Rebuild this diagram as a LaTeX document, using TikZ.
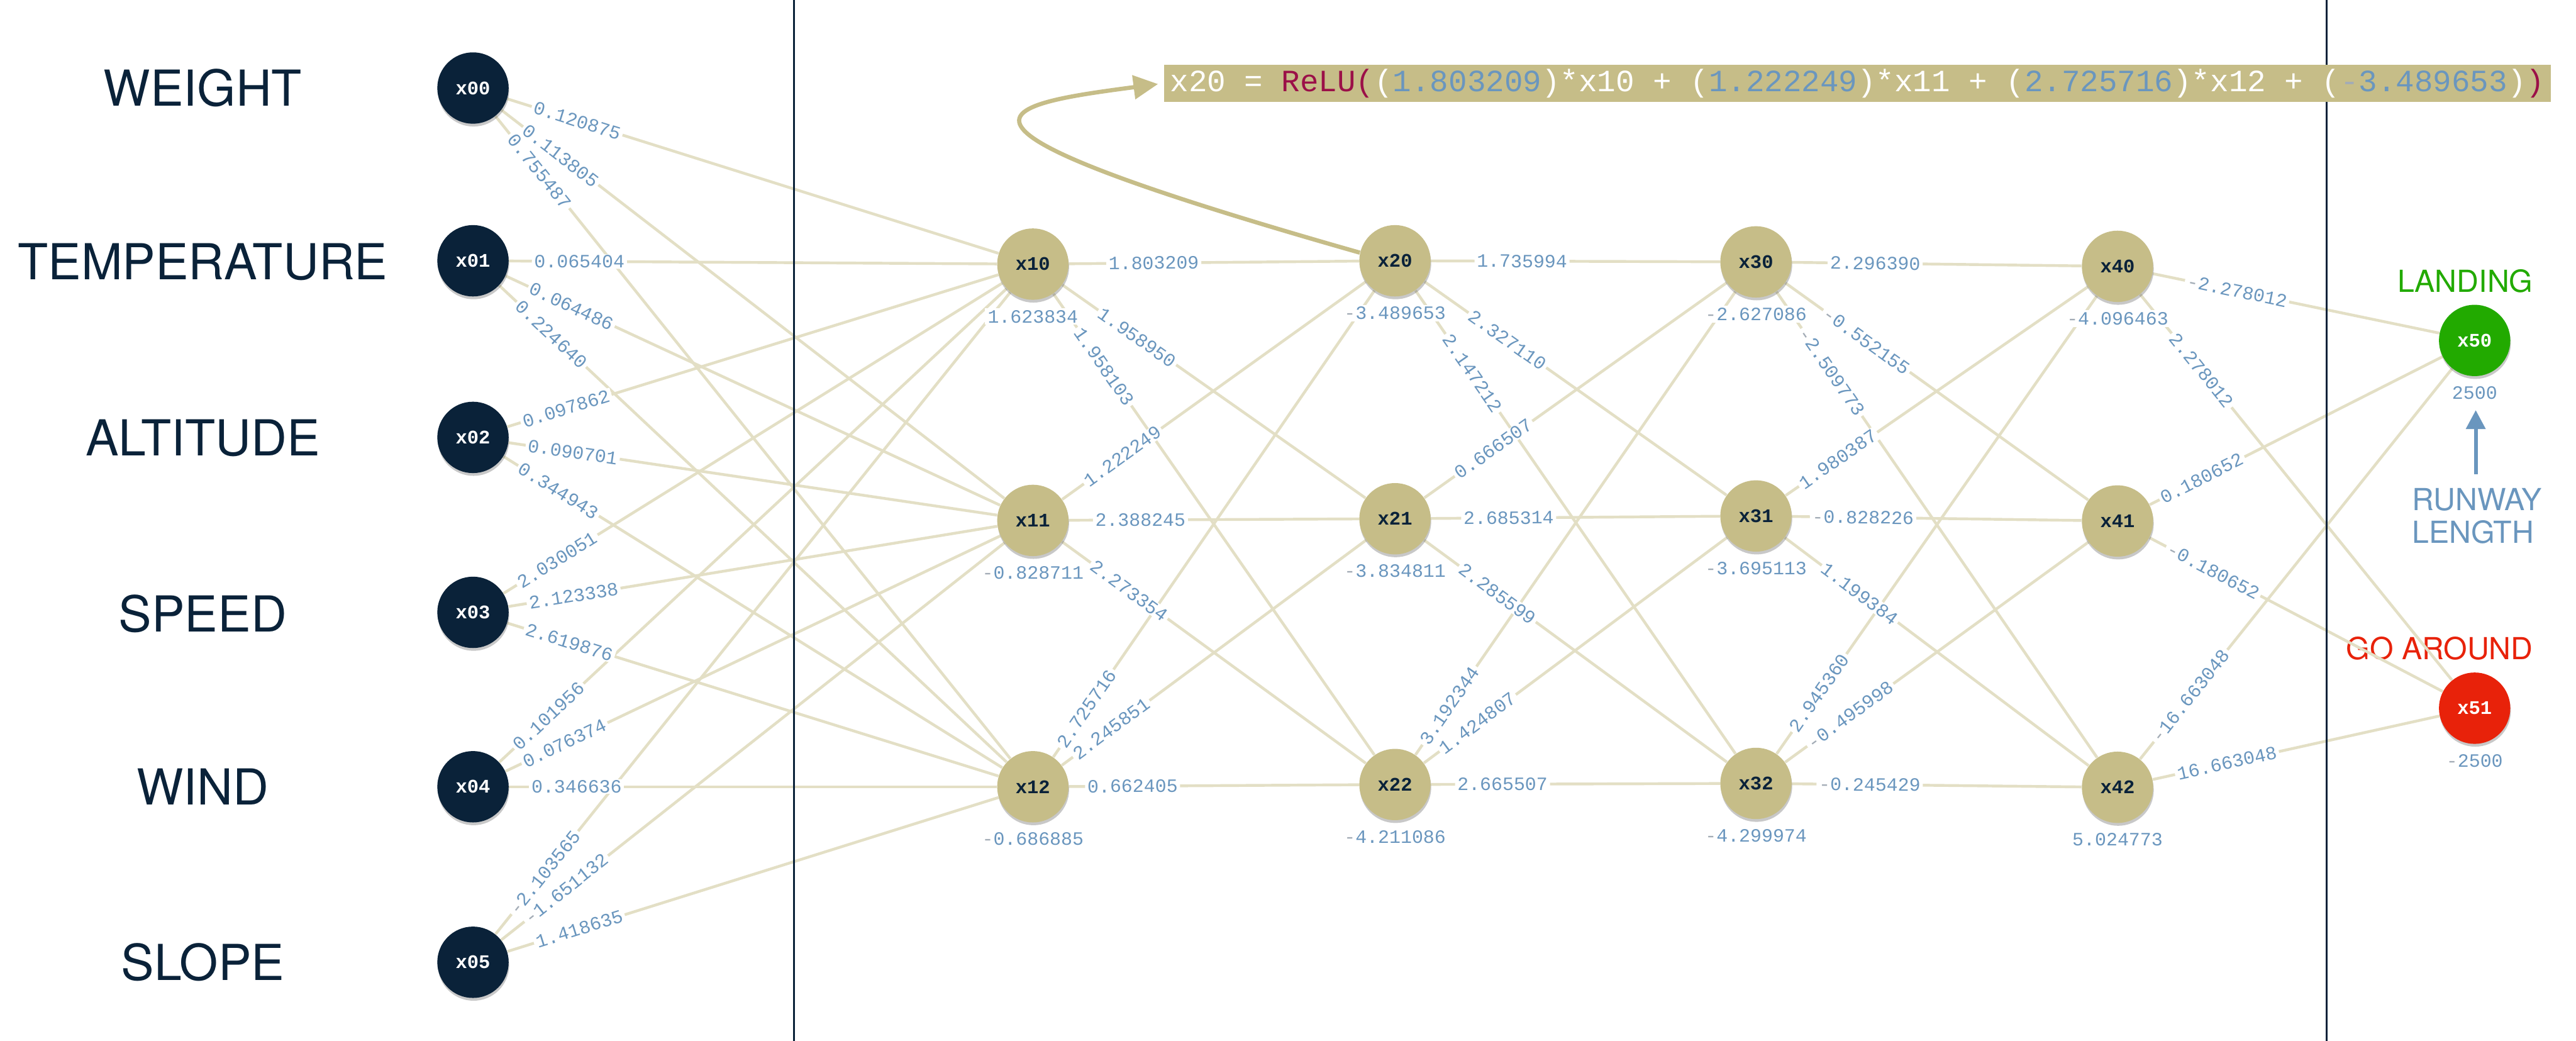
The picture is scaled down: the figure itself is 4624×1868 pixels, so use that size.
\documentclass[tikz,border=0pt]{standalone}
\usepackage{fontspec}
\usetikzlibrary{calc,shadows,arrows.meta}
\newfontfamily\monof{Liberation Mono}
\newfontfamily\sansf{TeX Gyre Heros}
\definecolor{navy}{HTML}{0A2239}
\definecolor{nodetan}{HTML}{C6BD88}
\definecolor{edgec}{HTML}{E3DFC5}
\definecolor{lblue}{HTML}{6A96BE}
\definecolor{mgray}{HTML}{A3ACB6}
\definecolor{lgreen}{HTML}{22AA00}
\definecolor{lred}{HTML}{E8220A}
\definecolor{crimson}{HTML}{9B1048}
\newcommand\gm{{\color{mgray}-}}
\pgfdeclarelayer{back}
\pgfdeclarelayer{edges}
\pgfdeclarelayer{vlines}
\pgfdeclarelayer{labels}
\pgfsetlayers{back,edges,vlines,labels,main}
\begin{document}
\begin{tikzpicture}[x=0.01cm,y=-0.01cm,
  every node/.style={inner sep=0pt},
  numfont/.style={font=\monof\fontsize{9.6pt}{10pt}\selectfont},
  nodefont/.style={font=\monof\bfseries\fontsize{9.8pt}{10pt}\selectfont},
  nshadow/.style={drop shadow={shadow xshift=0.01cm,shadow yshift=-0.05cm,opacity=0.3,fill=black!70}},
  innode/.style={circle,fill=navy,minimum size=1.28cm,text=white,nodefont,nshadow},
  hnode/.style={circle,fill=nodetan,minimum size=1.28cm,text=navy,nodefont,nshadow},
  outnode/.style={circle,minimum size=1.28cm,text=white,nodefont,nshadow},
  inlab/.style={text=navy,font=\sansf\fontsize{25.3pt}{27pt}\selectfont},
  outlab/.style={font=\sansf\fontsize{15.5pt}{17pt}\selectfont},
  elab/.style={fill=white,text=lblue,numfont,inner xsep=1.2pt,inner ysep=0.4pt},
  blab/.style={fill=white,text=lblue,numfont,inner xsep=1.5pt,inner ysep=1pt},
  edgeline/.style={draw=edgec,line width=0.05cm},
  vline/.style={draw=navy,line width=0.03cm},
  formula/.style={fill=nodetan,minimum width=24.88cm,minimum height=0.66cm,inner xsep=1pt,
    font=\monof\fontsize{15.8pt}{17pt}\selectfont},
  reluarrow/.style={draw=nodetan,line width=0.075cm,-{Triangle[length=0.44cm,width=0.42cm]},shorten >=0.1cm},
  rwarrow/.style={draw=lblue,line width=0.07cm,-{Triangle[length=0.34cm,width=0.34cm]}}
]
\begin{pgfonlayer}{back}
\fill[white] (0,0) rectangle (4624,1868);
\end{pgfonlayer}
\useasboundingbox (0,0) rectangle (4624,1868);

% nodes
\node[innode] (x00) at (849,158) {x00};
\node[innode] (x01) at (849,468) {x01};
\node[innode] (x02) at (849,785) {x02};
\node[innode] (x03) at (849,1099) {x03};
\node[innode] (x04) at (849,1412) {x04};
\node[innode] (x05) at (849,1727) {x05};
\node[hnode] (x10) at (1854,474) {x10};
\node[hnode] (x11) at (1854,934) {x11};
\node[hnode] (x12) at (1854,1412) {x12};
\node[hnode] (x20) at (2504,468) {x20};
\node[hnode] (x21) at (2504,931) {x21};
\node[hnode] (x22) at (2504,1408) {x22};
\node[hnode] (x30) at (3152,470) {x30};
\node[hnode] (x31) at (3152,926) {x31};
\node[hnode] (x32) at (3152,1406) {x32};
\node[hnode] (x40) at (3801,478) {x40};
\node[hnode] (x41) at (3801,935) {x41};
\node[hnode] (x42) at (3801,1413) {x42};
\node[outnode,fill=lgreen] (x50) at (4442,611) {x50};
\node[outnode,fill=lred] (x51) at (4442,1271) {x51};

% background texts
\begin{pgfonlayer}{back}
\node[inlab] (lweight) at (364,158) {WEIGHT};
\node[inlab] (ltemp) at (364,470) {TEMPERATURE};
\node[inlab] (lalt) at (364,786) {ALTITUDE};
\node[inlab] (lspeed) at (364,1101) {SPEED};
\node[inlab] (lwind) at (364,1412) {WIND};
\node[inlab] (lslope) at (364,1727) {SLOPE};
\node[outlab,text=lgreen,anchor=base] (llanding) at (4425,524) {LANDING};
\node[outlab,text=lred,anchor=base] (lgoaround) at (4379,1184) {GO AROUND};
\node[outlab,text=lblue,anchor=base west] (lrunway) at (4329,916) {RUNWAY};
\node[outlab,text=lblue,anchor=base west] (llength) at (4329,975) {LENGTH};
\end{pgfonlayer}

% edges
\begin{pgfonlayer}{edges}
\foreach \src/\dst in {x00/x10,x00/x11,x00/x12,x01/x10,x01/x11,x01/x12,
  x02/x10,x02/x11,x02/x12,x03/x10,x03/x11,x03/x12,x04/x10,x04/x11,x04/x12,
  x05/x10,x05/x11,x05/x12,
  x10/x20,x10/x21,x10/x22,x11/x20,x11/x21,x11/x22,x12/x20,x12/x21,x12/x22,
  x20/x30,x20/x31,x20/x32,x21/x30,x21/x31,x21/x32,x22/x30,x22/x31,x22/x32,
  x30/x40,x30/x41,x30/x42,x31/x40,x31/x41,x31/x42,x32/x40,x32/x41,x32/x42,
  x40/x50,x40/x51,x41/x50,x41/x51,x42/x50,x42/x51}
  \draw[edgeline] (\src) -- (\dst);
\end{pgfonlayer}

% vertical separators
\begin{pgfonlayer}{vlines}
\coordinate (vat) at (1425,0);
\coordinate (vab) at (1425,1868);
\coordinate (vbt) at (4176,0);
\coordinate (vbb) at (4176,1868);
\draw[vline] (vat) -- (vab);
\draw[vline] (vbt) -- (vbb);
\end{pgfonlayer}

% edge labels
\begin{pgfonlayer}{labels}
\foreach \src/\dst/\dist/\lab in {
  x00/x10/1.10/0.120875, x00/x11/1.13/0.113805, x00/x12/1.05/0.755487,
  x01/x10/1.05/0.065404, x01/x11/1.09/0.064486, x01/x12/1.07/0.224640,
  x02/x10/0.89/0.097862, x02/x11/0.95/0.090701, x02/x12/0.95/0.344943,
  x03/x10/0.92/2.030051, x03/x11/0.97/2.123338, x03/x12/0.95/2.619876,
  x04/x10/1.00/0.101956, x04/x11/0.96/0.076374, x04/x12/1.00/0.346636,
  x05/x10/1.10/\gm2.103565, x05/x11/1.17/\gm1.651132, x05/x12/1.14/1.418635,
  x10/x20/1.31/1.803209, x10/x21/1.43/1.958950, x10/x22/1.38/1.958103,
  x11/x20/1.12/1.222249, x11/x21/1.07/2.388245, x11/x22/1.28/2.273354,
  x12/x20/0.84/2.725716, x12/x21/0.89/2.245851, x12/x22/0.93/0.662405,
  x20/x30/1.42/1.735994, x20/x31/1.61/2.327110, x20/x32/1.59/2.147212,
  x21/x30/1.31/0.666507, x21/x31/1.18/2.685314, x21/x32/1.42/2.285599,
  x22/x30/0.86/3.192344, x22/x31/0.99/1.424807, x22/x32/1.07/2.665507,
  x30/x40/1.28/2.296390, x30/x41/1.48/\gm0.552155, x30/x42/1.44/\gm2.509773,
  x31/x40/0.93/1.980387, x31/x41/0.96/\gm0.828226, x31/x42/1.47/1.199384,
  x32/x40/1.12/2.945360, x32/x41/1.13/\gm0.495998, x32/x42/1.08/\gm0.245429,
  x40/x50/1.23/\gm2.278012, x40/x51/1.54/2.278012,
  x41/x50/0.84/0.180652, x41/x51/0.98/\gm0.180652,
  x42/x50/1.04/\gm16.663048, x42/x51/1.05/16.663048}
  \path (\src.center) -- ($(\src.center)!\dist cm!(\dst.center)$)
    node[elab,sloped,at end,anchor=west] (w-\src-\dst) {\lab};
% bias labels
\foreach \n/\lab in {x10/1.623834, x11/\gm0.828711, x12/\gm0.686885,
  x20/\gm3.489653, x21/\gm3.834811, x22/\gm4.211086,
  x30/\gm2.627086, x31/\gm3.695113, x32/\gm4.299974,
  x40/\gm4.096463, x42/5.024773, x50/2500, x51/\gm2500}
  \node[blab] (b-\n) at ($(\n)+(0,94)$) {\lab};
\end{pgfonlayer}

% formula
\node[formula] (formula) at (3334,149.5) {{\color{white}x20 = }{\color{crimson}ReLU(}{\color{white}(}{\color{lblue}1.803209}{\color{white})*x10 + (}{\color{lblue}1.222249}{\color{white})*x11 + (}{\color{lblue}2.725716}{\color{white})*x12 + (}{\color{mgray}-}{\color{lblue}3.489653}{\color{white})}{\color{crimson})}};
\draw[reluarrow] (x20.167) .. controls (1620,220) and (1780,190) .. (formula.west);

% runway arrow
\coordinate (rwtail) at (4444,851);
\coordinate (rwtip) at (4444,736);
\draw[rwarrow] (rwtail) -- (rwtip);
\end{tikzpicture}
\end{document}
